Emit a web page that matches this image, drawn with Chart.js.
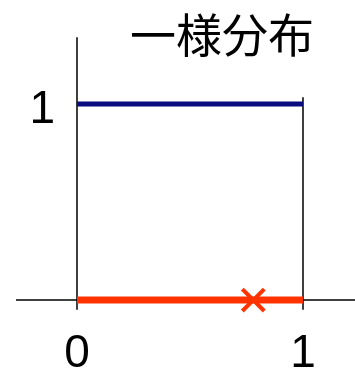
<!DOCTYPE html>
<html>
<head>
<meta charset="utf-8">
<script src="https://cdn.jsdelivr.net/npm/chart.js@4/dist/chart.umd.min.js"></script>
<style>
html,body{margin:0;padding:0;background:#fff;}
#c{display:block;}
</style>
</head>
<body>
<canvas id="c" width="355" height="370"></canvas>
<script>
// ---- data ----
const titleText = '一様分布';
const xTickValues = [0, 1];
const xTickLabels = ['0', '1'];
const yTickValues = [1];
const yTickLabels = ['1'];
const densityX = [0, 1];
const densityY = [1, 1];
const supportX = [0, 1];
const supportY = [0, 0];
const sampleX = [0.78];
const sampleY = [0];
const edgeX = [1, 1];
const edgeY = [1.035, -0.05];
const xAxisX = [-0.27, 1.24];
const xAxisY = [0, 0];
const yAxisX = [0, 0];
const yAxisY = [1.34, -0.05];

const pts = (xs, ys) => xs.map((x, i) => ({x, y: ys[i]}));

const textPlugin = {
  id: 'texts',
  afterDraw(chart) {
    const ctx = chart.ctx;
    const xs = chart.scales.x, ys = chart.scales.y;
    ctx.save();
    ctx.fillStyle = '#000';
    ctx.font = '46px "Liberation Sans", Arial, sans-serif';
    ctx.textAlign = 'center';
    ctx.textBaseline = 'alphabetic';
    xTickValues.forEach((v, i) => {
      ctx.fillText(xTickLabels[i], xs.getPixelForValue(v), ys.getPixelForValue(0) + 67);
    });
    ctx.textAlign = 'right';
    yTickValues.forEach((v, i) => {
      ctx.fillText(yTickLabels[i], xs.getPixelForValue(0) - 22, ys.getPixelForValue(v) + 19);
    });
    ctx.font = '46px "Noto Sans CJK JP", sans-serif';
    ctx.textAlign = 'center';
    ctx.textBaseline = 'middle';
    ctx.fillText(titleText, 222, 35);
    ctx.restore();
  }
};

new Chart(document.getElementById('c'), {
  type: 'scatter',
  data: {
    datasets: [
      {data: pts(sampleX, sampleY), pointStyle: 'crossRot', pointRadius: 15.5, pointBorderWidth: 4,
       borderColor: '#ff3300', backgroundColor: '#ff3300', showLine: false},
      {data: pts(supportX, supportY), showLine: true, borderColor: '#ff3300', borderWidth: 7, pointRadius: 0},
      {data: pts(densityX, densityY), showLine: true, borderColor: '#0b0b80', borderWidth: 5, pointRadius: 0},
      {data: pts(edgeX, edgeY), showLine: true, borderColor: '#000', borderWidth: 1.5, pointRadius: 0},
      {data: pts(xAxisX, xAxisY), showLine: true, borderColor: '#000', borderWidth: 1.5, pointRadius: 0},
      {data: pts(yAxisX, yAxisY), showLine: true, borderColor: '#000', borderWidth: 1.5, pointRadius: 0}
    ]
  },
  options: {
    responsive: false,
    animation: false,
    events: [],
    layout: {padding: 0, autoPadding: false},
    plugins: {legend: {display: false}, tooltip: {enabled: false}, title: {display: false}},
    scales: {
      x: {type: 'linear', display: false, min: -0.3407, max: 1.2301},
      y: {type: 'linear', display: false, min: -0.3571, max: 1.5306}
    }
  },
  plugins: [textPlugin]
});
</script>
</body>
</html>
